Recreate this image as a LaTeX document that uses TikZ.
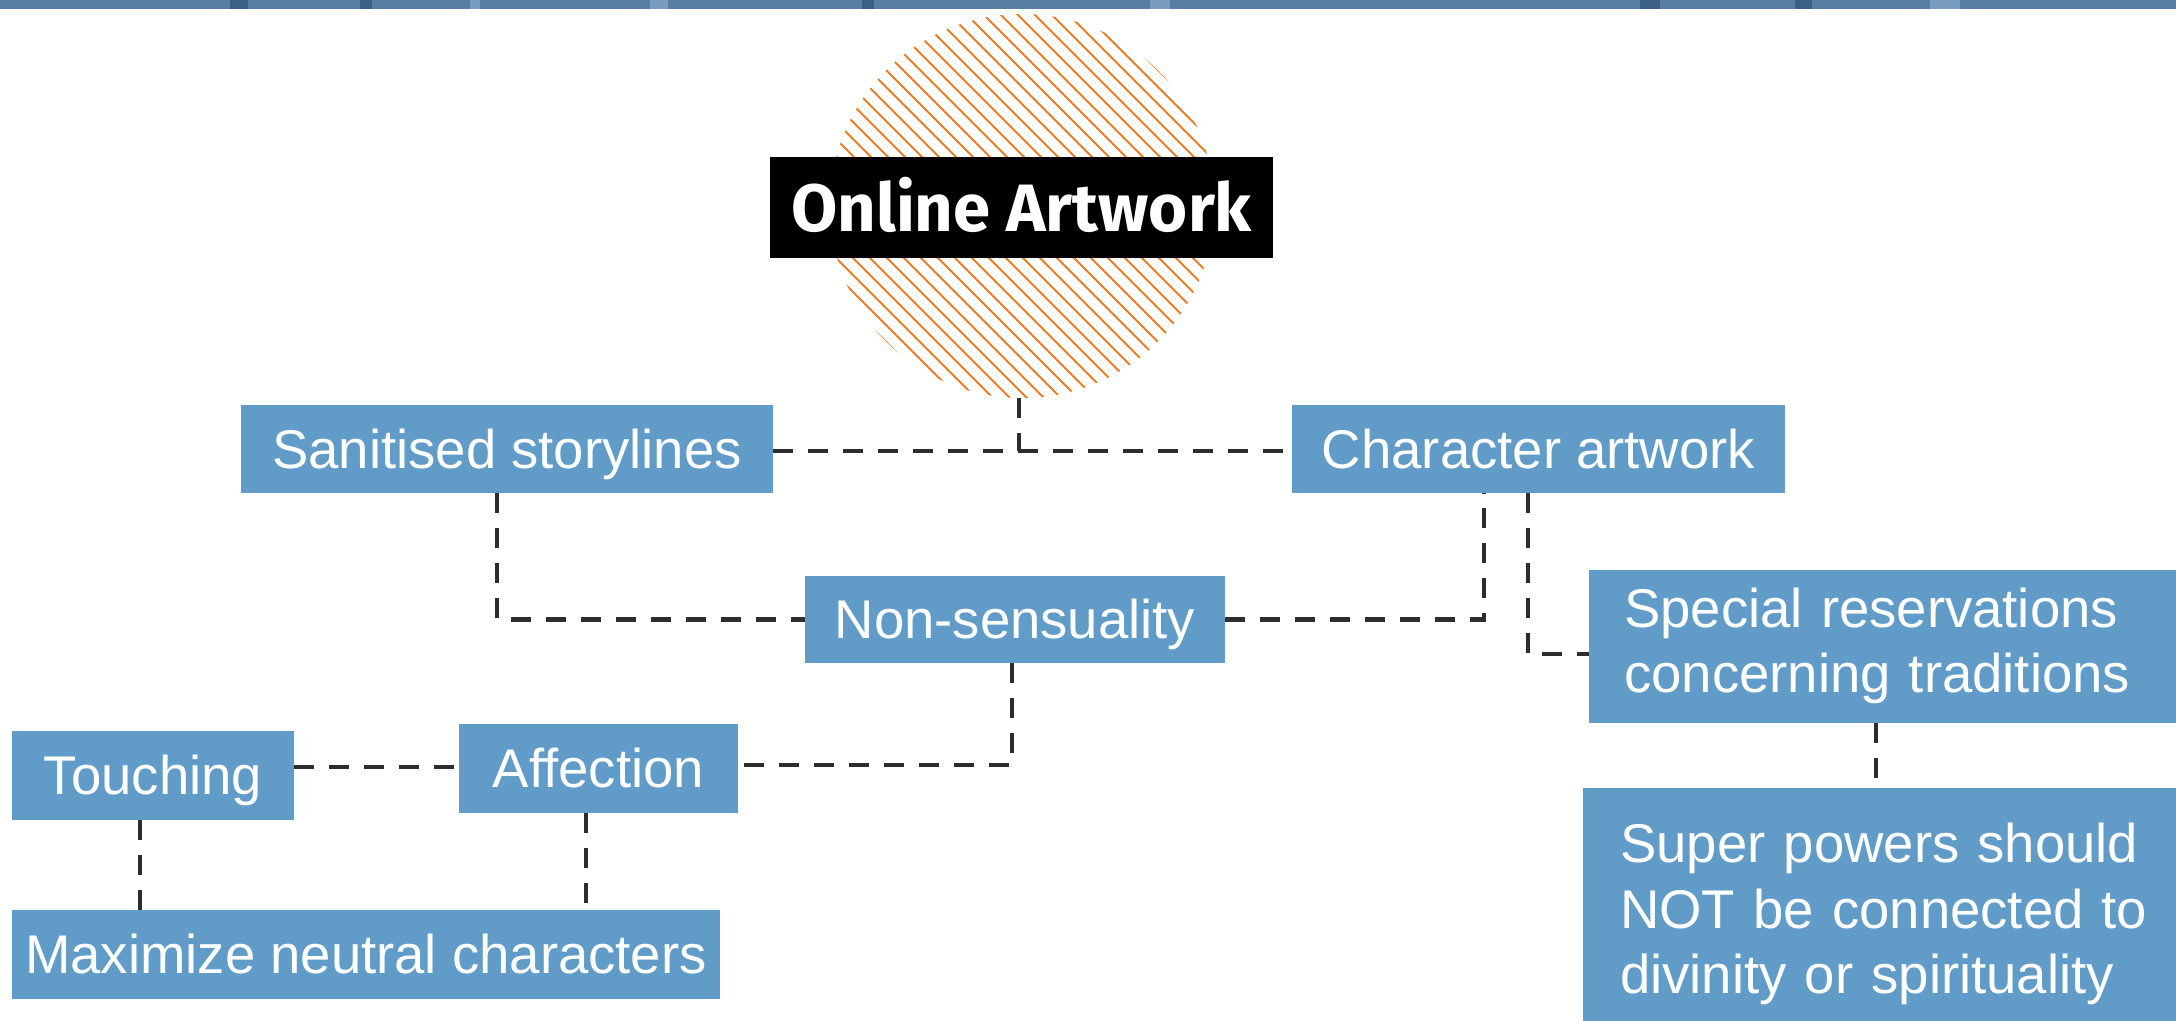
\documentclass[tikz,border=0pt]{standalone}
\usepackage{fontspec}
\setmainfont{Liberation Sans}
\newfontfamily\titlefont{Fira Sans}
\definecolor{boxblue}{RGB}{97,156,201}
\definecolor{dashgray}{RGB}{45,45,45}
\definecolor{hatchor}{RGB}{234,126,38}
\definecolor{bannerA}{RGB}{88,126,164}
\definecolor{bannerB}{RGB}{62,95,133}
\definecolor{bannerC}{RGB}{122,156,190}
\begin{document}
\begin{tikzpicture}[x=1pt,y=-1pt,
  bbox/.style={fill=boxblue, text=white, inner sep=0pt, font=\fontsize{54.5}{65.5}\selectfont},
  oneline/.style={text height=38pt, text depth=0pt},
  conn/.style={draw=dashgray, line width=4.5pt, dash pattern=on 20pt off 15pt}]
\useasboundingbox (0,0) rectangle (2176,1020);
\fill[white] (0,0) rectangle (2176,1020);
% banner
\fill[bannerA] (0,0) rectangle (2176,9);
\foreach \a/\b/\c in {230/248/bannerB, 360/372/bannerB, 470/480/bannerC, 650/668/bannerC, 862/874/bannerB, 1150/1170/bannerC, 1640/1660/bannerB, 1795/1812/bannerB, 1930/1960/bannerC}
  \fill[\c] (\a,0) rectangle (\b,9);
% hatched circle
\node[circle, minimum size=384pt, inner sep=0pt] (circ) at (1022,206) {};
\begin{scope}
  \clip (1022,206) circle[radius=192];
  \clip (0,9) rectangle (2176,1020);
  \foreach \c in {-272,-255,...,272}
    \draw[hatchor, line width=2pt] (1022+\c-300,206-300) -- (1022+\c+300,206+300);
\end{scope}
% title
\node[fill=black, text=white, inner sep=0pt, minimum width=503pt, minimum height=101pt,
      font=\titlefont\bfseries\fontsize{67}{70}\selectfont, text height=47pt, text depth=0pt]
      (title) at (1021.5,207.5) {Online Artwork};
% boxes
\node[bbox, oneline, minimum width=532pt, minimum height=88pt] (sani) at (507,449) {Sanitised storylines};
\node[bbox, oneline, minimum width=493pt, minimum height=88pt] (char) at (1538.5,449) {Character artwork};
\node[bbox, oneline, minimum width=420pt, minimum height=87pt] (nons) at (1015,619.5) {Non-sensuality};
\node[bbox, anchor=west, minimum width=600pt, minimum height=153pt, text width=530pt, align=left] (spec) at (1589,646) {Special reservations\\concerning traditions};
\node[bbox, anchor=north west, minimum width=610pt, minimum height=252pt, text width=536pt, align=left] (super) at (1583,788) {Super powers should\\NOT be connected to\\divinity or spirituality};
\node[bbox, oneline, minimum width=279pt, minimum height=89pt] (aff) at (598.5,768.5) {Affection};
\node[bbox, oneline, minimum width=282pt, minimum height=89pt] (touch) at (153,775.5) {Touching};
\node[bbox, oneline, minimum width=708pt, minimum height=89pt] (maxi) at (366,954.5) {Maximize neutral characters};
% connectors
\coordinate (j0) at (1019,451);
\draw[conn] (circ.south -| j0) -- (j0);
\draw[conn] (sani.east |- j0) -- (char.west |- j0);
\draw[conn] (sani.south -| 497,0) |- (nons.west);
\draw[conn] (nons.east) -| (char.south -| 1484,0);
\coordinate (j1) at (1528,654);
\draw[conn] (char.south -| j1) |- (spec.west |- j1);
\draw[conn] (spec.south -| 1876,0) -- (super.north -| 1876,0);
\coordinate (j2) at (1012,765);
\draw[conn] (nons.south -| j2) |- (aff.east |- j2);
\coordinate (j3) at (0,767);
\draw[conn] (touch.east |- j3) -- (aff.west |- j3);
\draw[conn] (touch.south -| 140,0) -- (maxi.north -| 140,0);
\draw[conn] (aff.south -| 586,0) -- (maxi.north -| 586,0);
\end{tikzpicture}
\end{document}
